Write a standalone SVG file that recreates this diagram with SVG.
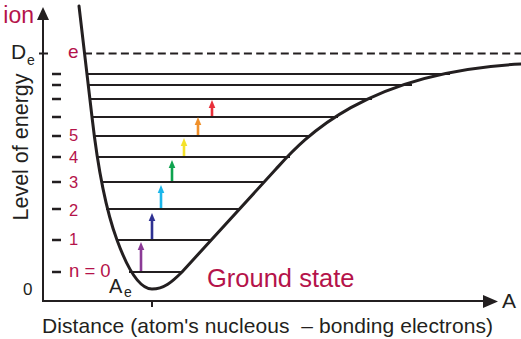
<svg xmlns="http://www.w3.org/2000/svg" width="521" height="339" viewBox="0 0 521 339">
<style>
text{font-family:"Liberation Sans",Arial,sans-serif;}
.k{fill:#231f20;}
.r{fill:#b5134a;}
.ax{stroke:#231f20;stroke-width:2;fill:none;}
.lv{stroke:#231f20;stroke-width:2;fill:none;}
.tk{stroke:#231f20;stroke-width:2.5;fill:none;}
.sh{stroke-width:2.6;fill:none;}
</style>
<defs>
<path id="ah" d="M0,0 L-3.3,8 L3.3,8 Z"/>
</defs>
<rect width="521" height="339" fill="#fff"/>
<g id="axes">
<line class="ax" x1="43" y1="18" x2="43" y2="301"/>
<path d="M43,7 L37,20 L49,20 Z" fill="#231f20"/>
<line class="ax" x1="42" y1="301" x2="486" y2="301"/>
<path d="M498,301.5 L483,295 L483,308 Z" fill="#231f20"/>
<line class="ax" x1="152" y1="301" x2="152" y2="307"/>
<line class="ax" x1="39" y1="53.5" x2="48" y2="53.5"/>
<line x1="84" y1="53.5" x2="521" y2="53.5" stroke="#231f20" stroke-width="2" stroke-dasharray="8 4.3"/>
</g>
<g id="ticks">
<line class="tk" x1="52" y1="74" x2="61" y2="74"/>
<line class="tk" x1="52" y1="85" x2="61" y2="85"/>
<line class="tk" x1="52" y1="99" x2="61" y2="99"/>
<line class="tk" x1="52" y1="117" x2="61" y2="117"/>
<line class="tk" x1="52" y1="136" x2="61" y2="136"/>
<line class="tk" x1="52" y1="157" x2="61" y2="157"/>
<line class="tk" x1="52" y1="182" x2="61" y2="182"/>
<line class="tk" x1="52" y1="209" x2="61" y2="209"/>
<line class="tk" x1="52" y1="240" x2="61" y2="240"/>
<line class="tk" x1="52" y1="272" x2="61" y2="272"/>
</g>
<g id="levels">
<line class="lv" x1="86" y1="74" x2="450" y2="74"/>
<line class="lv" x1="87" y1="85" x2="412" y2="85"/>
<line class="lv" x1="89" y1="99" x2="372" y2="99"/>
<line class="lv" x1="91" y1="117" x2="338" y2="117"/>
<line class="lv" x1="94" y1="136" x2="310" y2="136"/>
<line class="lv" x1="97" y1="157" x2="290" y2="157"/>
<line class="lv" x1="101" y1="182" x2="264" y2="182"/>
<line class="lv" x1="106" y1="209" x2="240" y2="209"/>
<line class="lv" x1="116" y1="240" x2="210" y2="240"/>
<line class="lv" x1="129" y1="272" x2="182" y2="272"/>
</g>
<g id="curve">
<path fill="none" stroke="#231f20" stroke-width="3" stroke-linejoin="round" stroke-linecap="round" d="M79,6 L92,117 C96,152 104,205 117,240 C128,270 140,289 152,289 C164,289 172,282 182,272 L276,169 C300,143 360,72 521,64"/>
</g>
<g id="arrows">
<g fill="#8b3a96"><line class="sh" stroke="#8b3a96" x1="141" y1="271" x2="141" y2="248"/><use href="#ah" x="141" y="242"/></g>
<g fill="#2e3192"><line class="sh" stroke="#2e3192" x1="152" y1="239" x2="152" y2="219"/><use href="#ah" x="152" y="213"/></g>
<g fill="#1bb6ea"><line class="sh" stroke="#1bb6ea" x1="161" y1="208" x2="161" y2="191"/><use href="#ah" x="161" y="185"/></g>
<g fill="#0fa34f"><line class="sh" stroke="#0fa34f" x1="172" y1="181" x2="172" y2="166"/><use href="#ah" x="172" y="160"/></g>
<g fill="#f4e12a"><line class="sh" stroke="#f4e12a" x1="184" y1="156" x2="184" y2="144"/><use href="#ah" x="184" y="138"/></g>
<g fill="#f0902a"><line class="sh" stroke="#f0902a" x1="198" y1="135" x2="198" y2="123"/><use href="#ah" x="198" y="117"/></g>
<g fill="#e8303a"><line class="sh" stroke="#e8303a" x1="212" y1="116" x2="212" y2="106"/><use href="#ah" x="212" y="100"/></g>
</g>
<g id="labels">
<text class="r" x="34" y="23" font-size="23" text-anchor="end">ion</text>
<text class="k" x="11" y="59" font-size="21">D</text>
<text class="k" x="27" y="65" font-size="14">e</text>
<text class="r" x="68" y="58" font-size="19">e</text>
<text class="k" transform="translate(28,147) rotate(-90)" font-size="21.5" text-anchor="middle">Level of energy</text>
<text class="r" x="69" y="141" font-size="16.5">5</text>
<text class="r" x="69" y="163" font-size="16.5">4</text>
<text class="r" x="69" y="188" font-size="16.5">3</text>
<text class="r" x="69" y="216" font-size="16.5">2</text>
<text class="r" x="69" y="245" font-size="16.5">1</text>
<text class="r" x="69" y="277" font-size="18.5">n = 0</text>
<text class="k" x="23" y="295" font-size="17">0</text>
<text class="k" x="109" y="293" font-size="20">A</text>
<text class="k" x="124" y="297" font-size="14">e</text>
<text class="r" x="207" y="287" font-size="25.5">Ground state</text>
<text class="k" x="502" y="308" font-size="21">A</text>
<text class="k" x="42" y="333" font-size="21" xml:space="preserve" textLength="451" lengthAdjust="spacing">Distance (atom's nucleous  – bonding electrons)</text>
</g>
</svg>
